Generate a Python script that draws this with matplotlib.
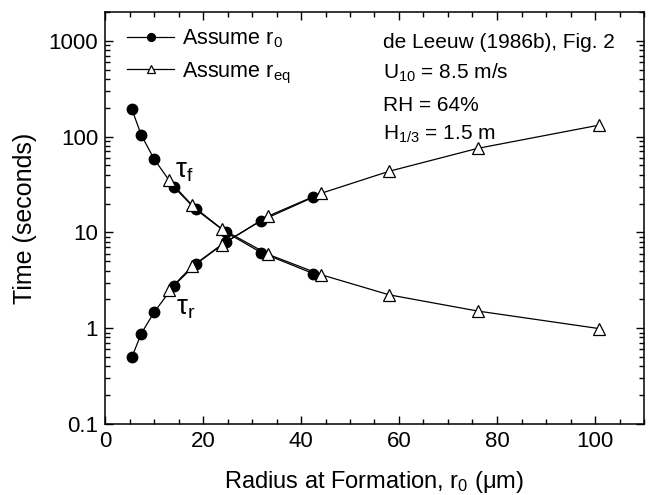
import numpy as np
import matplotlib.pyplot as plt
from matplotlib.ticker import MultipleLocator, LogLocator, NullFormatter, FixedLocator, FixedFormatter

plt.rcParams['font.family'] = ['Liberation Sans', 'DejaVu Sans']
plt.rcParams['mathtext.fontset'] = 'custom'
plt.rcParams['mathtext.rm'] = 'Liberation Sans'
plt.rcParams['mathtext.it'] = 'Liberation Sans'
plt.rcParams['mathtext.default'] = 'regular'

# Assume r0 (filled circles): formation and equilibration times
r0_radius = [5.5, 7.4, 10.0, 14.0, 18.5, 24.6, 31.9, 42.5]
r0_tau_f = [192, 104, 58.6, 30.0, 17.4, 10.1, 6.15, 3.72]
r0_tau_r = [0.50, 0.88, 1.46, 2.76, 4.64, 7.9, 13.3, 23.3]

# Assume r_eq (open triangles)
req_radius = [13.0, 17.8, 23.8, 33.3, 44.1, 58.0, 76.1, 100.9]
req_tau_f = [35.4, 19.1, 10.9, 5.9, 3.62, 2.23, 1.51, 0.99]
req_tau_r = [2.49, 4.43, 7.45, 14.8, 25.6, 43.5, 75.5, 132]

info_lines = ['de Leeuw (1986b), Fig. 2', 'U$_{10}$ = 8.5 m/s', 'RH = 64%', 'H$_{1/3}$ = 1.5 m']
info_y = [0.927, 0.852, 0.774, 0.702]

fig = plt.figure(figsize=(6.48, 4.95), dpi=100)
ax = fig.add_axes([105 / 648, 71 / 495, 539 / 648, 412 / 495])

line_kw = dict(color='black', linewidth=0.9)
ax.plot(r0_radius, r0_tau_f, marker='o', markersize=7.5, markerfacecolor='black',
        markeredgecolor='black', label='Assume r$_0$', **line_kw)
ax.plot(r0_radius, r0_tau_r, marker='o', markersize=7.5, markerfacecolor='black',
        markeredgecolor='black', **line_kw)
ax.plot(req_radius, req_tau_f, marker='^', markersize=8.5, markerfacecolor='white',
        markeredgecolor='black', markeredgewidth=0.9, label='Assume r$_{eq}$', **line_kw)
ax.plot(req_radius, req_tau_r, marker='^', markersize=8.5, markerfacecolor='white',
        markeredgecolor='black', markeredgewidth=0.9, **line_kw)

ax.set_yscale('log')
ax.set_xlim(0, 110)
ax.set_ylim(0.1, 2000)

ax.xaxis.set_major_locator(MultipleLocator(20))
ax.xaxis.set_minor_locator(MultipleLocator(5))
ax.yaxis.set_major_locator(FixedLocator([0.1, 1, 10, 100, 1000]))
ax.yaxis.set_major_formatter(FixedFormatter(['0.1', '1', '10', '100', '1000']))
ax.yaxis.set_minor_locator(LogLocator(base=10, subs=np.arange(2, 10)))
ax.yaxis.set_minor_formatter(NullFormatter())

ax.tick_params(which='both', direction='in', top=True, right=True, labelsize=16, width=1)
ax.tick_params(which='major', length=6, pad=5)
ax.tick_params(which='minor', length=3.5)
for s in ax.spines.values():
    s.set_linewidth(1.1)

ax.set_xlabel('Radius at Formation, r$_0$ ($\\mu$m)', fontsize=17, labelpad=12)
ax.set_ylabel('Time (seconds)', fontsize=18, labelpad=8)

ax.legend(loc='upper left', bbox_to_anchor=(0.013, 1.0), frameon=False, fontsize=15.5,
          handlelength=2.2, handletextpad=0.35, labelspacing=0.5, borderaxespad=0.3,
          markerscale=0.75)

for t, y in zip(info_lines, info_y):
    ax.text(0.515, y, t, transform=ax.transAxes, fontsize=15, ha='left', va='center')

ax.text(14.3, 37, '$\\tau_f$', fontsize=20, ha='left', va='baseline')
ax.text(14.4, 1.38, '$\\tau_r$', fontsize=20, ha='left', va='baseline')

plt.savefig('out.png', dpi=100)
